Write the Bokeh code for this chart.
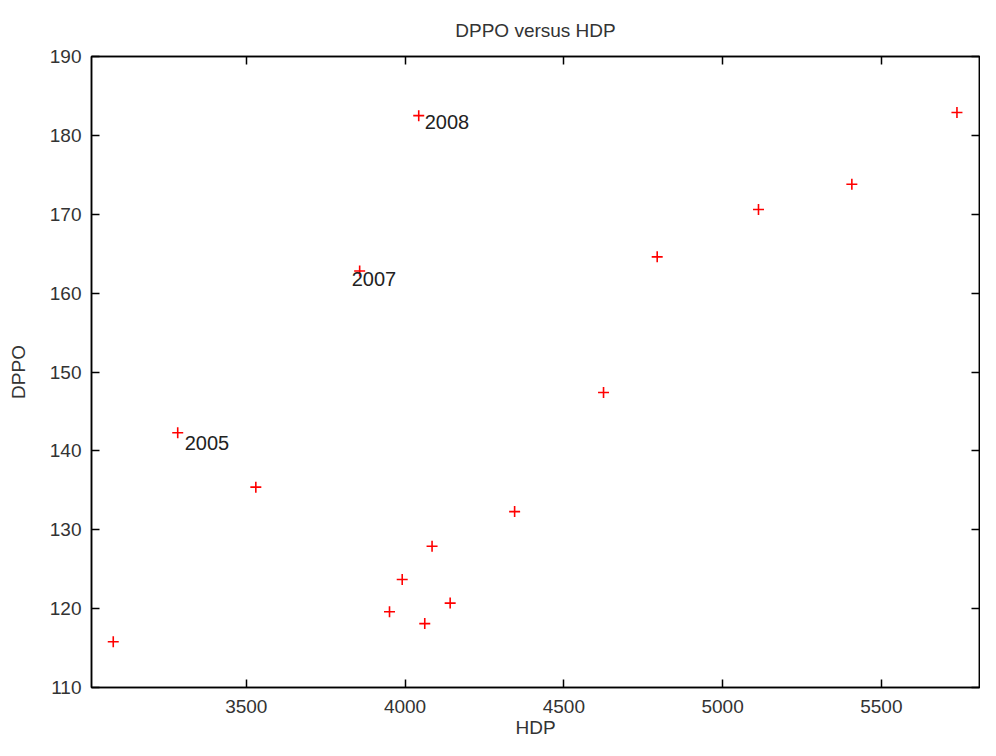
from bokeh.plotting import figure
from bokeh.models import LinearAxis, ColumnDataSource, Range1d, FixedTicker, CustomJSTickFormatter
from bokeh.core.properties import value
from bokeh.embed import file_html
from bokeh.resources import INLINE

# ---- data ----
hdp = [3081, 3284, 3530, 3857, 4043, 3991, 3951, 4062, 4142, 4085, 4345, 4625, 4794, 5113, 5407, 5738]
dppo = [115.8, 142.3, 135.4, 162.8, 182.5, 123.7, 119.6, 118.1, 120.7, 127.9, 132.3, 147.4, 164.6, 170.6, 173.8, 182.9]
label_hdp = [3284, 3857, 4043]
label_dppo = [142.3, 162.8, 182.5]
label_text = ["2005", "2007", "2008"]
x_ticks = [3500, 4000, 4500, 5000, 5500]
y_ticks = [110, 120, 130, 140, 150, 160, 170, 180, 190]

# layout offsets of the year labels (pixels)
label_dx = [7, -8, 6]
label_dy = [10, 8, 6]

FONT = "Liberation Sans"

p = figure(width=980, height=740, output_backend="svg", toolbar_location=None,
           x_range=Range1d(3012.5, 5809), y_range=Range1d(110, 190),
           min_border_left=91, min_border_right=1, min_border_top=56, min_border_bottom=52,
           x_axis_label="HDP", y_axis_label="DPPO")
p.xgrid.visible = False
p.ygrid.visible = False
p.outline_line_color = "black"
p.outline_line_width = 1.5
p.background_fill_color = "white"
p.border_fill_color = "white"

p.title.text = "DPPO versus HDP"
p.title.align = "center"
p.title.text_font = FONT
p.title.text_font_size = "19px"
p.title.text_font_style = "normal"
p.title.text_color = "#333333"
p.title.standoff = 31

def style_axis(ax, ticks, show_labels=True):
    ax.ticker = FixedTicker(ticks=ticks)
    ax.minor_tick_line_color = None
    ax.major_tick_in = 8
    ax.major_tick_out = 0
    ax.major_tick_line_color = "black"
    ax.major_tick_line_width = 1.5
    ax.axis_line_color = "black"
    ax.axis_line_width = 1.5
    ax.major_label_text_font = FONT
    ax.major_label_text_font_size = "19px"
    ax.major_label_text_color = "#333333"
    ax.axis_label_text_font = FONT
    ax.axis_label_text_font_size = "19px"
    ax.axis_label_text_font_style = "normal"
    ax.axis_label_text_color = "#333333"
    if not show_labels:
        ax.formatter = CustomJSTickFormatter(code="return ''")
        ax.major_label_standoff = 0

style_axis(p.xaxis[0], x_ticks)
style_axis(p.yaxis[0], y_ticks)
p.xaxis[0].major_label_standoff = 12
p.xaxis[0].axis_label_standoff = 1
p.yaxis[0].major_label_standoff = 10
p.yaxis[0].axis_label_standoff = 18

top = LinearAxis()
style_axis(top, x_ticks, show_labels=False)
p.add_layout(top, "above")
right = LinearAxis()
style_axis(right, y_ticks, show_labels=False)
p.add_layout(right, "right")

src = ColumnDataSource(dict(x=hdp, y=dppo))
p.scatter("x", "y", source=src, marker="cross", size=11, line_color="red", line_width=1.6)

lsrc = ColumnDataSource(dict(x=label_hdp, y=label_dppo, t=label_text, dx=label_dx, dy=label_dy))
p.text("x", "y", text="t", source=lsrc, x_offset="dx", y_offset="dy",
       text_font=value(FONT), text_font_size="20px", text_color="#222222",
       text_baseline="alphabetic", text_align="left")

open("out.html", "w").write(file_html(p, INLINE))
